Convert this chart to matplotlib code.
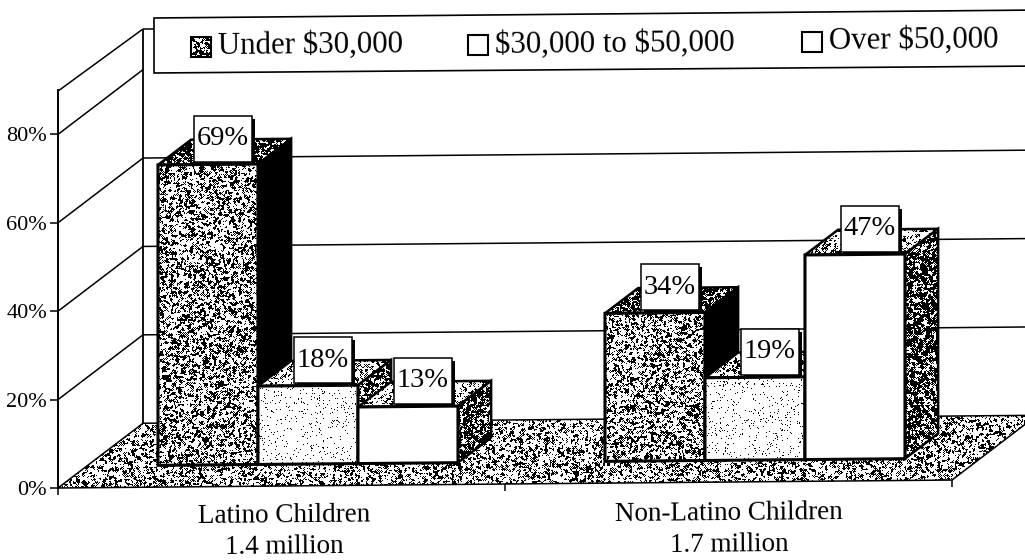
import numpy as np
import matplotlib
matplotlib.use("Agg")
import matplotlib.pyplot as plt
from matplotlib.patches import Polygon, Rectangle

plt.rcParams["font.family"] = ["Liberation Serif", "DejaVu Serif"]

categories = ["Latino Children\n1.4 million", "Non-Latino Children\n1.7 million"]
series_names = ["Under \\$30,000", "\\$30,000 to \\$50,000", "Over \\$50,000"]
latino_values = [69, 18, 13]
non_latino_values = [34, 19, 47]
y_ticks = [0, 20, 40, 60, 80]

# scale of the drawing, in pixels
PX_CAT = 447
PX_PCT = 4.42
LEFT = 58
BOTTOM = 488
DEPTH_X = 85
DEPTH_Y = 64
TILT = 0.0089  # the scan is a bit crooked

BAR_W = 100 / PX_CAT
BAR_START = 0.159
BAR_FRONT = 0.34
BAR_BACK = 0.73
BAR_SCALE = 0.985  # bars sit deeper than the front axis, so a touch shorter

# ink density of the stipple fills: front, top, side
styles = [(0.40, 0.70, 1.0), (0.05, 0.30, 0.62), (0.0, 0.28, 0.66)]
FLOOR_INK = 0.36

fig = plt.figure(figsize=(10.25, 5.6), dpi=100)
ax = fig.add_axes([LEFT / 1025, (560 - BOTTOM) / 560, (1025 - LEFT) / 1025, 90 * PX_PCT / 560])
ax.patch.set_visible(False)
xlim = (0, (1025 - LEFT) / PX_CAT)
ylim = (0, 90)


def X(px):
    return (px - LEFT) / PX_CAT


def Y(py):
    return (BOTTOM - py) / PX_PCT


def project(cat, value, depth=0.0):
    x_px = LEFT + PX_CAT * cat + DEPTH_X * depth
    y_px = DEPTH_Y * depth + TILT * (x_px - LEFT)
    return X(x_px), value + y_px / PX_PCT


noise_rng = np.random.default_rng(7)
base_noise = noise_rng.random((560, 1025))
clumped = (base_noise + np.roll(base_noise, 1, 0) + np.roll(base_noise, 1, 1)
           + np.roll(base_noise, -1, 0) + np.roll(base_noise, -1, 1)) / 5


def fill(points, ink, zorder, lw=1.8):
    # white polygon, stipple image clipped to it, black outline on top
    ax.add_patch(Polygon(points, closed=True, fc="white", ec="none", zorder=zorder, clip_on=False))
    if ink >= 1:
        ax.add_patch(Polygon(points, closed=True, fc="black", ec="none", zorder=zorder, clip_on=False))
    elif ink > 0:
        source = base_noise if ink < 0.1 else clumped
        cut = np.quantile(source, ink)
        img = ax.imshow(source < cut, cmap="gray_r", vmin=0, vmax=1, aspect="auto", zorder=zorder,
                        extent=(X(0), X(1025), Y(560), Y(0)), interpolation="nearest")
        clip = Polygon(points, closed=True, transform=ax.transData)
        img.set_clip_box(fig.bbox)
        img.set_clip_path(clip)
    ax.add_patch(Polygon(points, closed=True, fc="none", ec="black", lw=lw, zorder=zorder,
                         clip_on=False, joinstyle="miter"))


def line(points, lw=1.1, zorder=1, clip=False):
    xs, ys = zip(*points)
    ax.plot(xs, ys, color="black", lw=lw, zorder=zorder, clip_on=clip, solid_capstyle="butt")


# walls and gridlines
far_cat = X(1040)
for v in y_ticks[1:]:
    line([project(0, v), project(0, v, 1)])
    end = project(far_cat - DEPTH_X / PX_CAT, v, 1)
    line([project(0, v, 1), end], clip=True)
line([project(0, 89.8), project(0, 89.2, 1)])
line([project(0, 89.2, 1), (X(156), project(0, 89.2, 1)[1])])
line([project(0, 0, 1), project(0, 89.2, 1)], lw=1.3)

# floor
floor_right = 2
fill([project(0, 0), project(floor_right, 0), project(floor_right, 0, 1), project(0, 0, 1)],
     FLOOR_INK, 2, lw=1.1)
ax.add_patch(Rectangle((X(1025), Y(560)), 1, Y(0) - Y(560), fc="white", ec="none", zorder=2.5, clip_on=False))

# bars, left to right so later ones sit on the earlier ones
z = 3
labels = []
for cat, values in enumerate([latino_values, non_latino_values]):
    for i, value in enumerate(values):
        v = value * BAR_SCALE
        x0 = cat + BAR_START + i * BAR_W
        x1 = x0 + BAR_W
        front, top_ink, side_ink = styles[i]
        fill([project(x0, v, BAR_FRONT), project(x0, v, BAR_BACK), project(x1, v, BAR_BACK),
              project(x1, v, BAR_FRONT)], top_ink, z)
        fill([project(x1, 0, BAR_FRONT), project(x1, 0, BAR_BACK), project(x1, v, BAR_BACK),
              project(x1, v, BAR_FRONT)], side_ink, z + 0.1)
        fill([project(x0, 0, BAR_FRONT), project(x1, 0, BAR_FRONT), project(x1, v, BAR_FRONT),
              project(x0, v, BAR_FRONT)], front, z + 0.2, lw=2.2)
        labels.append((project(x0, v, BAR_FRONT), value))
        z += 1

# value boxes
for (bx, by), v in labels:
    bx += 36 / PX_CAT
    by += 3 / PX_PCT
    w = 58 / PX_CAT
    h = 46 / PX_PCT
    ax.add_patch(Rectangle((bx + 3 / PX_CAT, by - 3 / PX_PCT), w, h, fc="black", ec="none", zorder=30))
    ax.add_patch(Rectangle((bx, by), w, h, fc="white", ec="black", lw=1.1, zorder=31))
    ax.text(bx + w / 2, by + h / 2, f"{v}%", ha="center", va="center", fontsize=20.5, zorder=32)

# category ticks and labels
for cat in [1, 2]:
    tx, ty = project(cat, 0)
    line([(tx, ty), (tx, ty - 7 / PX_PCT)], lw=1.1)
line([project(0, 0), project(0, 0 - 7 / PX_PCT)], lw=1.1)
ax.text(X(284), Y(531), categories[0], ha="center", va="center", fontsize=19.5, linespacing=1.33, rotation=0.5)
ax.text(X(729), Y(529), categories[1], ha="center", va="center", fontsize=19.5, linespacing=1.33, rotation=0.5)

# legend box
ax.add_patch(Polygon([(X(154), Y(18)), (X(1040), Y(10)), (X(1040), Y(66)), (X(154), Y(73))], closed=True,
                     fc="white", ec="black", lw=1.2, zorder=40, clip_on=False))
legend_pos = [(191, 47), (468, 45), (802, 42)]
legend_ink = [0.45, 0.0, 0.0]
for name, (px, py), ink in zip(series_names, legend_pos, legend_ink):
    fill([(X(px), Y(py + 10)), (X(px + 20), Y(py + 10)), (X(px + 20), Y(py - 10)), (X(px), Y(py - 10))],
         ink, 41, lw=1.5)
    ax.text(X(px + 27), Y(py - 1), name, ha="left", va="center", fontsize=22.2, zorder=42, rotation=0.5)

ax.set_xlim(xlim)
ax.set_ylim(ylim)
ax.set_xticks([])
ax.set_yticks(y_ticks)
ax.set_yticklabels([f"{v}%" for v in y_ticks], fontsize=16)
ax.tick_params(axis="y", length=6, width=1.1, pad=2)
for side in ["top", "right", "bottom"]:
    ax.spines[side].set_visible(False)
ax.spines["left"].set_linewidth(1.4)

fig.savefig("out.png", dpi=100)
